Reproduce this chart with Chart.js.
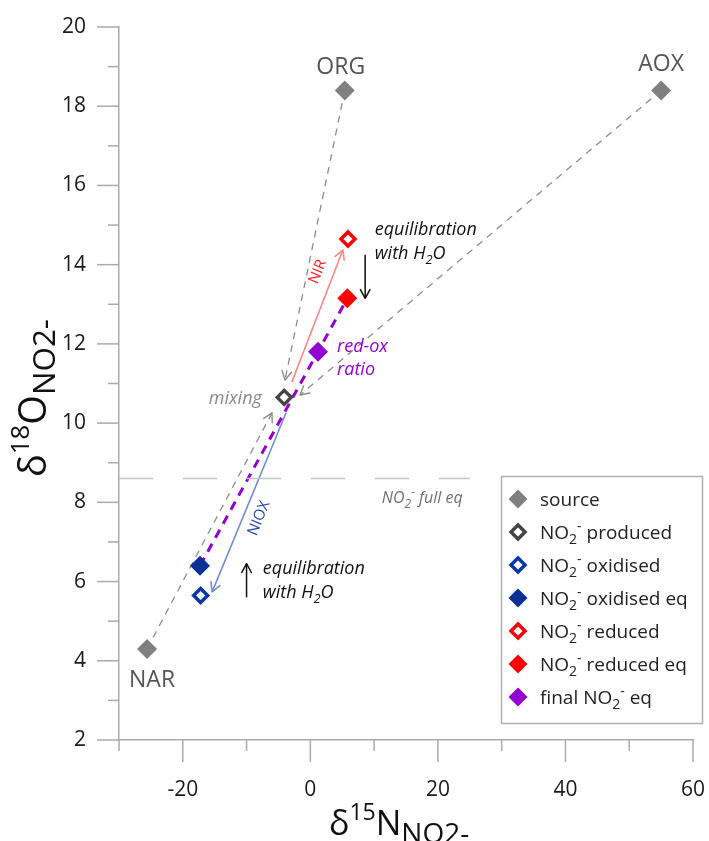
<!DOCTYPE html>
<html><head><meta charset="utf-8">
<script src="https://cdn.jsdelivr.net/npm/chart.js@4.4.1/dist/chart.umd.min.js"></script>
<style>html,body{margin:0;padding:0;background:#fff;} canvas{display:block;}</style>
</head><body>
<canvas id="c" width="709" height="841" style="width:709px;height:841px"></canvas>
<script>
const FONT = "'Open Sans', 'DejaVu Sans', sans-serif";

// ---------------- data (δ15N, δ18O) ----------------
const seriesNames = ['source', 'NO2- produced', 'NO2- oxidised', 'NO2- oxidised eq', 'NO2- reduced', 'NO2- reduced eq', 'final NO2- eq'];
const sourceLabels = ['NAR', 'ORG', 'AOX'];
const sourceN = [-25.6, 5.4, 55.0];
const sourceO = [4.3, 18.4, 18.4];
const producedN = [-4.1];   const producedO = [10.65];
const oxidisedN = [-17.2];  const oxidisedO = [5.65];
const oxidisedEqN = [-17.3]; const oxidisedEqO = [6.4];
const reducedN = [5.9];     const reducedO = [14.65];
const reducedEqN = [5.8];   const reducedEqO = [13.15];
const finalN = [1.2];       const finalO = [11.8];
const fullEqO = 8.6;        const fullEqN = [-30, 25];
// mixing arrows: from each source to the produced NO2- point (arrow tips)
const mixTipN = [-6.0, -3.97, -1.62];
const mixTipO = [10.26, 11.09, 10.71];
const nirN = [-2.9, 5.1];    const nirO = [11.04, 14.37];
const nioxN = [-3.8, -15.4]; const nioxO = [10.26, 5.74];
const redoxN = [-17.3, 5.8]; const redoxO = [6.4, 13.15];
const eqDownN = [8.6, 8.6];  const eqDownO = [14.25, 13.15];
const eqUpN = [-10, -10];    const eqUpO = [5.6, 6.45];
const xRange = [-30, 60];  const xStep = 10; const xLabelEvery = 20;
const yRange = [2, 20];    const yStep = 1;  const yLabelEvery = 2;

// ---------------- helpers ----------------
const P = (xs, ys) => xs.map((x, i) => ({x: x, y: ys[i]}));

const markerStyles = [
  {bg: '#808080', border: '#808080', r: 10, bw: 0},
  {bg: '#ffffff', border: '#454545', r: 7, bw: 3.5},
  {bg: '#ffffff', border: '#0a36a8', r: 7, bw: 3.5},
  {bg: '#0a2f96', border: '#0a2f96', r: 10, bw: 0},
  {bg: '#ffffff', border: '#ff0000', r: 7, bw: 3.5},
  {bg: '#ff0000', border: '#ff0000', r: 10, bw: 0},
  {bg: '#9400d3', border: '#9400d3', r: 10, bw: 0}
];
const markerData = [
  P(sourceN, sourceO), P(producedN, producedO), P(oxidisedN, oxidisedO),
  P(oxidisedEqN, oxidisedEqO), P(reducedN, reducedO), P(reducedEqN, reducedEqO), P(finalN, finalO)
];

const datasets = [];
markerData.forEach((d, i) => {
  const s = markerStyles[i];
  datasets.push({
    label: seriesNames[i], data: d, showLine: false, order: 0, clip: false,
    pointStyle: 'rectRot', pointRadius: s.r, pointHoverRadius: s.r,
    backgroundColor: s.bg, borderColor: s.border, borderWidth: s.bw,
    pointBackgroundColor: s.bg, pointBorderColor: s.border, pointBorderWidth: s.bw
  });
});
function lineDs(data, color, width, dash, arrow) {
  return {label: '_line', data: data, showLine: true, order: 1, pointRadius: 0, pointHoverRadius: 0,
    borderColor: color, borderWidth: width, borderDash: dash, tension: 0, fill: false, arrow: arrow, clip: false};
}
datasets.push(lineDs(P(fullEqN, [fullEqO, fullEqO]), '#c4c4c4', 1.5, [34, 30], false));
for (let i = 0; i < sourceN.length; i++) {
  datasets.push(lineDs(P([sourceN[i], mixTipN[i]], [sourceO[i], mixTipO[i]]), '#8c8c8c', 1.3, [7, 6], true));
}
datasets.push(lineDs(P(redoxN, redoxO), '#9400d3', 3, [9, 7], false));
datasets.push(lineDs(P(nirN, nirO), '#ff8585', 1.6, [], true));
datasets.push(lineDs(P(nioxN, nioxO), '#6f8fd2', 1.6, [], true));
datasets.push(lineDs(P(eqDownN, eqDownO), '#111111', 1.5, [], true));
datasets.push(lineDs(P(eqUpN, eqUpO), '#111111', 1.5, [], true));

function rich(ctx, parts, x, y, align) {
  let w = 0;
  parts.forEach(p => { ctx.font = (p.it ? 'italic ' : '') + p.s + 'px ' + FONT; p.w = ctx.measureText(p.t).width; w += p.w; });
  let cx = align === 'center' ? x - w / 2 : (align === 'right' ? x - w : x);
  ctx.textAlign = 'left'; ctx.textBaseline = 'alphabetic';
  parts.forEach(p => {
    ctx.font = (p.it ? 'italic ' : '') + p.s + 'px ' + FONT;
    ctx.fillStyle = p.c || ctx.fillStyle;
    ctx.fillText(p.t, cx, y + (p.dy || 0));
    cx += p.w;
  });
  return w;
}
function no2(size, color, it, rest) {
  const sub = Math.round(size * 0.72);
  const parts = [
    {t: 'NO', s: size, c: color, it: it},
    {t: '2', s: sub, dy: size * 0.27, c: color, it: it},
    {t: '-', s: sub, dy: -size * 0.42, c: color, it: it}
  ];
  if (rest) parts.push({t: rest, s: size, c: color, it: it});
  return parts;
}
function diamond(ctx, x, y, s) {
  ctx.beginPath();
  ctx.moveTo(x - s.r, y); ctx.lineTo(x, y - s.r); ctx.lineTo(x + s.r, y); ctx.lineTo(x, y + s.r); ctx.closePath();
  ctx.fillStyle = s.bg; ctx.fill();
  if (s.bw > 0) { ctx.lineWidth = s.bw; ctx.strokeStyle = s.border; ctx.stroke(); }
}

const arrowPlugin = {
  id: 'arrows',
  afterDatasetDraw(chart, args) {
    const ds = chart.data.datasets[args.index];
    if (!ds.arrow) return;
    const pts = args.meta.data; const n = pts.length;
    const a = pts[n - 2], b = pts[n - 1];
    const ang = Math.atan2(b.y - a.y, b.x - a.x);
    const ctx = chart.ctx, L = 10, h = 0.5;
    ctx.save();
    ctx.setLineDash([]); ctx.strokeStyle = ds.borderColor; ctx.lineWidth = Math.max(1.4, ds.borderWidth);
    ctx.lineCap = 'round'; ctx.lineJoin = 'round';
    ctx.beginPath();
    ctx.moveTo(b.x - L * Math.cos(ang - h), b.y - L * Math.sin(ang - h));
    ctx.lineTo(b.x, b.y);
    ctx.lineTo(b.x - L * Math.cos(ang + h), b.y - L * Math.sin(ang + h));
    ctx.stroke();
    ctx.restore();
  }
};

const decoPlugin = {
  id: 'deco',
  afterDraw(chart) {
    const ctx = chart.ctx, xs = chart.scales.x, ys = chart.scales.y, ca = chart.chartArea;
    const X = v => xs.getPixelForValue(v), Y = v => ys.getPixelForValue(v);
    ctx.save();
    // tick marks (outward, long at labelled ticks)
    ctx.strokeStyle = '#ababab'; ctx.lineWidth = 1.5; ctx.setLineDash([]);
    xs.ticks.forEach(t => {
      const px = X(t.value), long = t.value % xLabelEvery === 0;
      ctx.beginPath(); ctx.moveTo(px, ca.bottom); ctx.lineTo(px, ca.bottom + (long ? 22 : 11)); ctx.stroke();
    });
    ys.ticks.forEach(t => {
      const py = Y(t.value), long = t.value % yLabelEvery === 0;
      ctx.beginPath(); ctx.moveTo(ca.left, py); ctx.lineTo(ca.left - (long ? 22 : 11), py); ctx.stroke();
    });
    // source labels
    const offs = [[5, 32], [-4, -23], [0, -26]];
    ctx.font = '23px ' + FONT; ctx.fillStyle = '#555555'; ctx.textAlign = 'center'; ctx.textBaseline = 'middle';
    sourceLabels.forEach((l, i) => ctx.fillText(l, X(sourceN[i]) + offs[i][0], Y(sourceO[i]) + offs[i][1]));
    // annotations
    ctx.textBaseline = 'middle';
    ctx.font = 'italic 18px ' + FONT; ctx.fillStyle = '#8a8a8a'; ctx.textAlign = 'right';
    ctx.fillText('mixing', X(-7.6), Y(10.6));
    ctx.fillStyle = '#9400d3'; ctx.textAlign = 'left';
    ctx.fillText('red-ox', X(4.2), Y(11.92));
    ctx.fillText('ratio', X(4.2), Y(11.34));
    ctx.fillStyle = '#111111';
    ctx.fillText('equilibration', X(10.1), Y(14.88));
    rich(ctx, [{t: 'with H', s: 18, it: true, c: '#111'}, {t: '2', s: 13, dy: 5, it: true}, {t: 'O', s: 18, it: true}], X(10.1), Y(14.3) + 6, 'left');
    ctx.textBaseline = 'middle';
    ctx.fillText('equilibration', X(-7.45), Y(6.33));
    rich(ctx, [{t: 'with H', s: 18, it: true, c: '#111'}, {t: '2', s: 13, dy: 5, it: true}, {t: 'O', s: 18, it: true}], X(-7.45), Y(5.74) + 6, 'left');
    rich(ctx, no2(16, '#707070', true, ' full eq'), X(11.2), Y(8.13) + 6, 'left');
    // rotated process labels
    const rot = (txt, n, o, color) => {
      ctx.save(); ctx.translate(X(n), Y(o)); ctx.rotate(-68 * Math.PI / 180);
      ctx.font = '15px ' + FONT; ctx.fillStyle = color; ctx.textAlign = 'center'; ctx.textBaseline = 'middle';
      ctx.fillText(txt, 0, 0); ctx.restore();
    };
    rot('NIR', 1.2, 13.82, '#ff2020');
    rot('NIOX', -8.05, 7.6, '#1a44b0');
    // legend
    ctx.strokeStyle = '#b0b0b0'; ctx.lineWidth = 1.5;
    ctx.strokeRect(501.5, 476.5, 201, 247);
    seriesNames.forEach((name, i) => {
      const cy = 499 + i * 33;
      const s = Object.assign({}, markerStyles[i]);
      s.r = s.bw > 0 ? 7 : 9.5;
      diamond(ctx, 518, cy, s);
      let parts;
      if (name.indexOf('NO2-') >= 0) {
        const pre = name.split('NO2-')[0], post = name.split('NO2-')[1];
        parts = [];
        if (pre) parts.push({t: pre, s: 19, c: '#222'});
        parts = parts.concat(no2(19, '#222', false, post));
      } else parts = [{t: name, s: 19, c: '#222'}];
      rich(ctx, parts, 540, cy + 7, 'left');
    });
    // axis titles
    const title = (sup, big, k) => [
      {t: 'δ', s: 34 * k, c: '#111'}, {t: sup, s: 23 * k, dy: -15 * k, c: '#111'},
      {t: big, s: 34 * k, c: '#111'}, {t: 'NO2-', s: 28 * k, dy: 8 * k, c: '#111'}
    ];
    rich(ctx, title('15', 'N', 1), 329, 835, 'left');
    ctx.save(); ctx.translate(46, 477); ctx.rotate(-Math.PI / 2);
    rich(ctx, title('18', 'O', 1.12), 0, 0, 'left');
    ctx.restore();
    ctx.restore();
  }
};

function noPad(s) { s.paddingLeft = 0; s.paddingRight = 0; s.paddingTop = 0; s.paddingBottom = 0; }

new Chart(document.getElementById('c'), {
  type: 'scatter',
  data: {datasets: datasets},
  plugins: [arrowPlugin, decoPlugin],
  options: {
    responsive: false, animation: false, events: [],
    layout: {padding: {left: 0, top: 27, right: 16, bottom: 0}},
    plugins: {legend: {display: false}, tooltip: {enabled: false}},
    scales: {
      x: {
        type: 'linear', min: xRange[0], max: xRange[1],
        grid: {display: false, drawTicks: false},
        border: {display: true, color: '#ababab', width: 1.5},
        ticks: {stepSize: xStep, padding: 37, color: '#1a1a1a', font: {family: FONT, size: 21},
          callback: v => (v % xLabelEvery === 0 ? String(v) : '')},
        afterFit: s => { s.height = 101; noPad(s); }
      },
      y: {
        type: 'linear', min: yRange[0], max: yRange[1],
        grid: {display: false, drawTicks: false},
        border: {display: true, color: '#ababab', width: 1.5},
        ticks: {stepSize: yStep, padding: 33, color: '#1a1a1a', font: {family: FONT, size: 21},
          callback: v => (v % yLabelEvery === 0 ? String(v) : '')},
        afterFit: s => { s.width = 119; noPad(s); }
      }
    }
  }
});
</script>
</body></html>
